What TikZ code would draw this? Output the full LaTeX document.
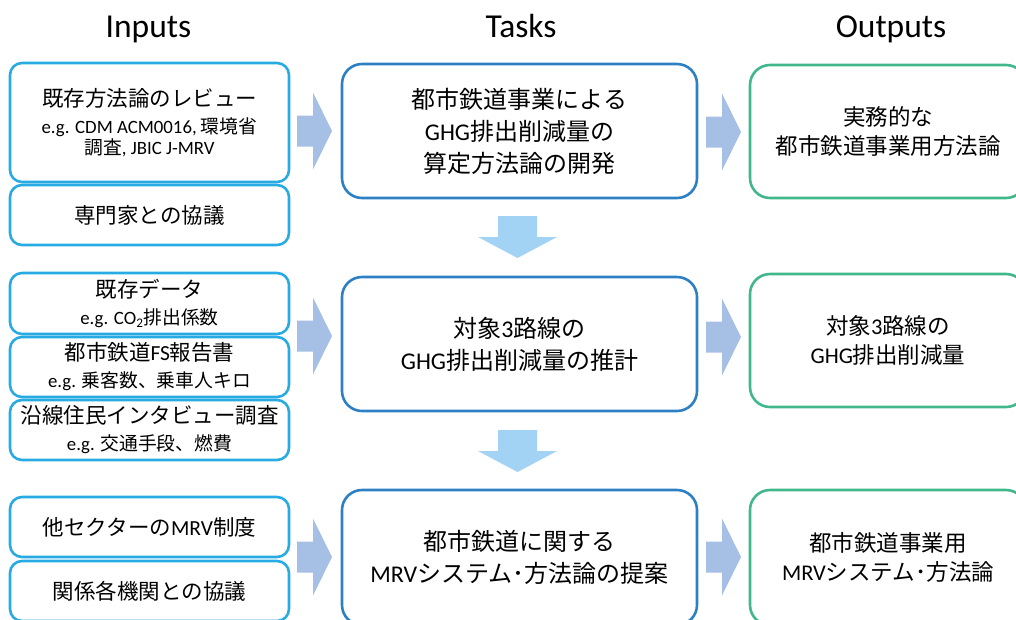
\documentclass[tikz,border=0pt]{standalone}
\usepackage{fontspec}
\setmainfont{Carlito}
\newfontfamily\cjk{Noto Sans CJK JP}
\newcommand\J[1]{{\cjk #1}}
\newcommand\Jbig[1]{{\fontsize{21.5}{21.5}\selectfont\J{#1}}}
\definecolor{inc}{RGB}{40,170,226}
\definecolor{tkc}{RGB}{46,128,196}
\definecolor{otc}{RGB}{64,184,140}
\definecolor{rac}{RGB}{166,191,229}
\definecolor{dac}{RGB}{162,211,245}
\newcommand\rarr[2]{\fill[rac] (#1,#2-15.5) -- (#1+16,#2-15.5) -- (#1+16,#2-38.5) -- (#1+35,#2) -- (#1+16,#2+38.5) -- (#1+16,#2+15.5) -- (#1,#2+15.5) -- cycle;}
\newcommand\darr[2]{\fill[dac] (#1-19.5,#2) -- (#1+19.5,#2) -- (#1+19.5,#2+21) -- (#1+39.5,#2+21) -- (#1,#2+42) -- (#1-39.5,#2+21) -- (#1-19.5,#2+21) -- cycle;}
\tikzset{
  box/.style={draw, line width=2.6pt, fill=white, inner sep=0pt, align=center, text=black},
  inbox/.style={box, draw=inc, rounded corners=12pt, minimum width=279pt, font=\fontsize{18.8}{21}\selectfont},
  tkbox/.style={box, draw=tkc, rounded corners=20pt, minimum width=355pt, font=\fontsize{24}{32}\selectfont},
  otbox/.style={box, draw=otc, rounded corners=20pt, minimum width=276pt, font=\fontsize{22.5}{29.5}\selectfont},
  head/.style={anchor=base, font=\fontsize{33.5}{33.5}\selectfont}
}
\begin{document}
\begin{tikzpicture}[x=1pt,y=-1pt]
\useasboundingbox (0,0) rectangle (1016,619);
\clip (0,0) rectangle (1016,619);
% headers
\node[head] (hin) at (148.5,37) {Inputs};
\node[head] (htk) at (521,37) {Tasks};
\node[head] (hot) at (891,37) {Outputs};
% inputs
\node[inbox, minimum height=119pt] (in1) at (149.5,122.5)
  {\Jbig{既存方法論のレビュー}\\[6pt] e.g. CDM ACM0016, \J{環境省}\\ \J{調査}, JBIC J-MRV};
\node[inbox, minimum height=60pt] (in2) at (149.5,215) {\Jbig{専門家との協議}};
\node[inbox, minimum height=61pt] (in3) at (149.5,303.5)
  {\Jbig{既存データ}\\[6pt] e.g. CO\textsubscript{2}\J{排出係数}};
\node[inbox, minimum height=60pt] (in4) at (149.5,367)
  {{\fontsize{21.5}{21.5}\selectfont\J{都市鉄道}FS\J{報告書}}\\[6pt] e.g. \J{乗客数、乗車人キロ}};
\node[inbox, minimum height=60pt] (in5) at (149.5,430)
  {\Jbig{沿線住民インタビュー調査}\\[6pt] e.g. \J{交通手段、燃費}};
\node[inbox, minimum height=60pt] (in6) at (149.5,527)
  {{\fontsize{21.5}{21.5}\selectfont\J{他セクターの}MRV\J{制度}}};
\node[inbox, minimum height=60pt] (in7) at (149.5,591) {\Jbig{関係各機関との協議}};
% tasks
\node[tkbox, minimum height=134pt] (t1) at (519.5,131)
  {\J{都市鉄道事業による}\\ GHG\J{排出削減量の}\\ \J{算定方法論の開発}};
\node[tkbox, minimum height=134pt] (t2) at (519.5,344)
  {\J{対象}3\J{路線の}\\ GHG\J{排出削減量の推計}};
\node[tkbox, minimum height=135pt] (t3) at (519.5,557.5)
  {\J{都市鉄道に関する}\\ MRV\J{システム･方法論の提案}};
% outputs
\node[otbox, minimum height=133pt] (o1) at (888,131.5)
  {\J{実務的な}\\ \J{都市鉄道事業用方法論}};
\node[otbox, minimum height=133pt] (o2) at (888,340.5)
  {\J{対象}3\J{路線の}\\ GHG\J{排出削減量}};
\node[otbox, minimum height=135pt] (o3) at (888,557.5)
  {\J{都市鉄道事業用}\\ MRV\J{システム･方法論}};
% arrows
\rarr{297}{131}
\rarr{297}{336}
\rarr{297}{557}
\rarr{706}{132}
\rarr{706}{337}
\rarr{706}{557}
\darr{517.5}{216}
\darr{517.5}{430}
\end{tikzpicture}
\end{document}
